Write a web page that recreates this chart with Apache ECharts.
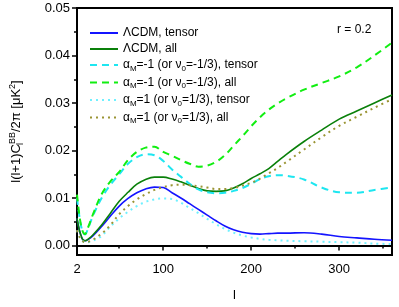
<!DOCTYPE html>
<html>
<head>
<meta charset="utf-8">
<script src="https://cdn.jsdelivr.net/npm/echarts@6/dist/echarts.min.js"></script>
<style>html,body{margin:0;padding:0;background:#fff}#c{width:399px;height:307px}</style>
</head>
<body>
<div id="c"></div>
<script>
// multipole l
var ell = [2,5,8,11,15,20,30,40,50,60,70,80,90,100,110,120,130,140,150,160,170,180,190,200,210,220,230,240,260,280,300,320,340,360];
// LCDM, tensor
var lcdmTensor = [0.0057,0.0030,0.0014,0.0010,0.0013,0.0020,0.0040,0.0062,0.0083,0.0099,0.0111,0.0119,0.0123,0.0122,0.0111,0.0100,0.0088,0.0076,0.0064,0.0052,0.0041,0.0033,0.0028,0.0025,0.0024,0.0025,0.0026,0.0026,0.0027,0.0024,0.0019,0.0016,0.0013,0.0011];
// LCDM, all
var lcdmAll = [0.0057,0.0030,0.0014,0.0010,0.0014,0.0022,0.0043,0.0068,0.0093,0.0112,0.0129,0.0139,0.0144,0.0144,0.0140,0.0134,0.0127,0.0120,0.0115,0.0114,0.0115,0.0121,0.0130,0.0141,0.0151,0.0162,0.0177,0.0192,0.0219,0.0243,0.0266,0.0283,0.0300,0.0317];
// alpha_M = -1, tensor
var amNegTensor = [0.0100,0.0058,0.0031,0.0023,0.0038,0.0062,0.0100,0.0128,0.0150,0.0172,0.0186,0.0192,0.0190,0.0178,0.0160,0.0145,0.0130,0.0118,0.0112,0.0110,0.0111,0.0115,0.0121,0.0130,0.0140,0.0146,0.0148,0.0147,0.0139,0.0122,0.0112,0.0111,0.0117,0.0122];
// alpha_M = -1, all
var amNegAll = [0.0107,0.0060,0.0032,0.0024,0.0040,0.0065,0.0108,0.0135,0.0155,0.0180,0.0197,0.0206,0.0208,0.0197,0.0189,0.0180,0.0172,0.0166,0.0168,0.0176,0.0190,0.0210,0.0230,0.0251,0.0270,0.0286,0.0299,0.0310,0.0328,0.0342,0.0356,0.0375,0.0400,0.0427];
// alpha_M = 1, tensor
var amPosTensor = [0.0032,0.0018,0.0010,0.0007,0.0007,0.0010,0.0020,0.0040,0.0057,0.0071,0.0083,0.0092,0.0097,0.0099,0.0098,0.0090,0.0079,0.0068,0.0056,0.0045,0.0035,0.0027,0.0021,0.0017,0.0014,0.0012,0.0011,0.0010,0.0009,0.0008,0.0007,0.0006,0.0004,0.0003];
// alpha_M = 1, all
var amPosAll = [0.0032,0.0018,0.0010,0.0007,0.0008,0.0012,0.0025,0.0043,0.0066,0.0083,0.0097,0.0108,0.0117,0.0123,0.0127,0.0128,0.0127,0.0125,0.0122,0.0119,0.0119,0.0121,0.0126,0.0132,0.0141,0.0152,0.0163,0.0176,0.0202,0.0228,0.0252,0.0271,0.0290,0.0308];

var xMajor = [2,100,200,300];
var xMinor = [50,150,250,350];
var yMajor = [0,0.01,0.02,0.03,0.04,0.05];
var yMinor = [0.005,0.015,0.025,0.035,0.045];

var names = ['LCDM_T','LCDM_A','NEG_T','NEG_A','POS_T','POS_A'];
var labels = {
  LCDM_T: '{t|ΛCDM, tensor}',
  LCDM_A: '{t|ΛCDM, all}',
  NEG_T: '{t|α}{s|M}{t|=-1 (or ν}{s|0}{t|=-1/3), tensor}',
  NEG_A: '{t|α}{s|M}{t|=-1 (or ν}{s|0}{t|=-1/3), all}',
  POS_T: '{t|α}{s|M}{t|=1 (or ν}{s|0}{t|=1/3), tensor}',
  POS_A: '{t|α}{s|M}{t|=1 (or ν}{s|0}{t|=1/3), all}'
};
var sets = [lcdmTensor, lcdmAll, amNegTensor, amNegAll, amPosTensor, amPosAll];
var styles = [
  {color:'#1414ff', type:'solid', width:1.6},
  {color:'#0a800a', type:'solid', width:1.6},
  {color:'#1ee6f0', type:[7,5], width:2},
  {color:'#11ee11', type:[7,5], width:2},
  {color:'#70f0ff', type:[2,4], width:2},
  {color:'#9a9433', type:[2,4], width:2}
];
function pairs(arr){ return ell.map(function(l,i){ return [l, arr[i]]; }); }

var FONT = 'Liberation Sans';
var chart = echarts.init(document.getElementById('c'));
chart.setOption({
  animation:false,
  textStyle:{fontFamily:FONT},
  grid:{left:68,right:7,top:8,bottom:43,show:true,borderColor:'#000',borderWidth:2,backgroundColor:'transparent'},
  legend:{
    orient:'vertical', left:84, top:22, itemWidth:28, itemHeight:10, itemGap:4,
    data:names,
    itemStyle:{opacity:0, borderWidth:0},
    formatter:function(n){return labels[n];},
    textStyle:{fontFamily:FONT, rich:{
      t:{fontSize:12, color:'#000', fontFamily:FONT},
      s:{fontSize:8, color:'#000', fontFamily:FONT, padding:[7,0,0,0]}
    }}
  },
  xAxis:[{
    type:'value', min:2, max:360,
    axisLine:{lineStyle:{color:'#000',width:2}},
    axisTick:{customValues:xMajor, length:5, lineStyle:{color:'#000',width:1.5}},
    axisLabel:{customValues:xMajor, fontSize:13, color:'#000', margin:8, fontFamily:FONT},
    splitLine:{show:false},
    name:'l', nameLocation:'middle', nameGap:34, nameTextStyle:{fontSize:13,color:'#000',fontFamily:FONT}
  },{
    type:'value', min:2, max:360, position:'bottom',
    axisLine:{show:false},
    axisTick:{customValues:xMinor, length:3, lineStyle:{color:'#000',width:1.5}},
    axisLabel:{show:false}, splitLine:{show:false}
  }],
  yAxis:[{
    type:'value', min:-0.002, max:0.05,
    axisLine:{show:true, lineStyle:{color:'#000',width:2}},
    axisTick:{show:true, customValues:yMajor, length:5, lineStyle:{color:'#000',width:1.5}},
    axisLabel:{customValues:yMajor, fontSize:13, color:'#000', margin:7, fontFamily:FONT,
      formatter:function(v){return v.toFixed(2);}},
    splitLine:{show:false},
    name:'{t|l(l+1)C}{s|l}{p|BB}{t|/2π [μK}{p|2}{t|]}', nameLocation:'middle', nameGap:52,
    nameTextStyle:{fontFamily:FONT, rich:{
      t:{fontSize:13,color:'#000',fontFamily:FONT},
      s:{fontSize:9,color:'#000',fontFamily:FONT,padding:[8,0,0,0],width:0},
      p:{fontSize:9,color:'#000',fontFamily:FONT,padding:[0,0,8,0]}
    }}
  },{
    type:'value', min:-0.002, max:0.05, position:'left',
    axisLine:{show:false},
    axisTick:{show:true, customValues:yMinor, length:3, lineStyle:{color:'#000',width:1.5}},
    axisLabel:{show:false}, splitLine:{show:false}
  }],
  graphic:[{type:'text', left:337, top:24, style:{text:'r = 0.2', fontSize:12, fill:'#000', fontFamily:FONT}}],
  series: names.map(function(n,i){
    return {
      name:n, type:'line', xAxisIndex:0, yAxisIndex:0, data:pairs(sets[i]),
      showSymbol:false, symbol:'none', smooth:0.35,
      lineStyle:styles[i], itemStyle:{color:styles[i].color}
    };
  })
});
</script>
</body>
</html>
